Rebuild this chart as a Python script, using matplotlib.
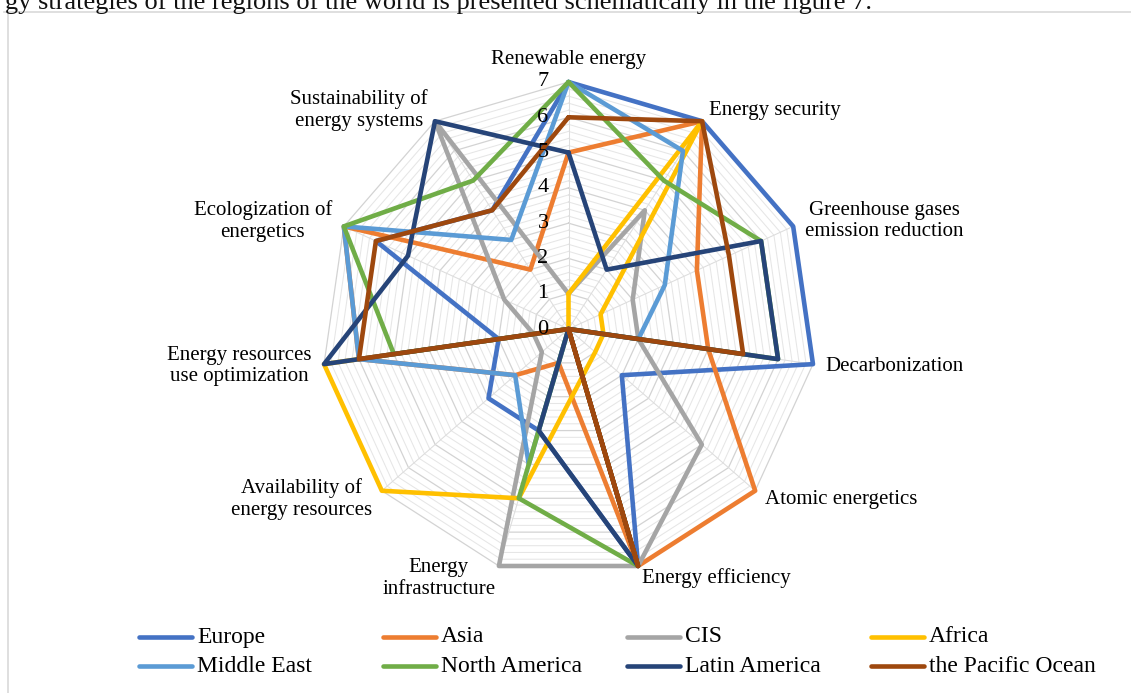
import numpy as np
import matplotlib
matplotlib.use("Agg")
from matplotlib import pyplot as plt
from matplotlib.lines import Line2D

categories = [
    "Renewable energy",
    "Energy security",
    "Greenhouse gases\nemission reduction",
    "Decarbonization",
    "Atomic energetics",
    "Energy efficiency",
    "Energy\ninfrastructure",
    "Availability of\nenergy resources",
    "Energy resources\nuse optimization",
    "Ecologization of\nenergetics",
    "Sustainability of\nenergy systems",
]

regions = ["Europe", "Asia", "CIS", "Africa",
           "Middle East", "North America", "Latin America", "the Pacific Ocean"]

europe = [7, 7, 7, 7, 2, 7, 3, 3, 2, 6, 4]
asia = [5, 7, 4, 4, 7, 7, 1, 2, 6, 7, 2]
cis = [1, 4, 2, 2, 5, 7, 7, 1, 1, 2, 7]
africa = [1, 7, 1, 1, 1, np.nan, 5, 7, 7, 0, 0]  # no score for energy efficiency
middle_east = [7, 6, 3, 2, 0, 0, 4, 2, 6, 7, 3]
north_america = [7, 5, 6, 6, 0, 7, 5, 0, 5, 7, 5]
latin_america = [5, 2, 6, 6, 0, 7, 3, 0, 7, 5, 7]
pacific = [6, 7, 5, 5, 0, 7, 0, 0, 6, 6, 4]

colors = ["#4472C4", "#ED7D31", "#A5A5A5", "#FFC000",
          "#5B9BD5", "#70AD47", "#264478", "#9E480E"]

ticks = [0, 1, 2, 3, 4, 5, 6, 7]
R_MAX = 7

plt.rcParams["font.family"] = ["Liberation Serif", "DejaVu Serif"]

W, H = 1131, 693
fig = plt.figure(figsize=(W / 100, H / 100), dpi=100)
fig.patch.set_facecolor("white")

# page text above the chart, cut by the top edge
fig.text(5 / W, 1 - 9 / H,
         "gy strategies of the regions of the world is presented schematically in the figure 7.",
         fontsize=19, ha="left", va="baseline", color="#111111")

# chart frame
fig.add_artist(Line2D([4 / W, 1], [1 - 12 / H] * 2, color="#D9D9D9", lw=1.2))
fig.add_artist(Line2D([8 / W] * 2, [0, 1 - 12 / H], color="#D9D9D9", lw=1.2))

cx, cy, rad = 568.5, 329, 247
ax = fig.add_axes([(cx - rad) / W, (H - cy - rad) / H, 2 * rad / W, 2 * rad / H],
                  projection="polar")
ax.set_theta_zero_location("N")
ax.set_theta_direction(-1)
ax.set_ylim(0, R_MAX)
ax.grid(False)
ax.spines["polar"].set_visible(False)
ax.set_xticks([])
ax.set_yticks([])
ax.patch.set_alpha(0)

n = len(categories)
theta = np.arange(n) * 2 * np.pi / n
ring_t = np.append(theta, theta[0])

# polygon gridlines every 0.2, a bit darker on whole numbers
for k in range(1, 36):
    r = k * 0.2
    major = k % 5 == 0
    ax.plot(ring_t, [r] * (n + 1), color="#D3D3D3" if major else "#E6E6E6",
            lw=0.9 if major else 0.75, zorder=1, clip_on=False)
for t in theta:
    ax.plot([t, t], [0, R_MAX], color="#DDDDDD", lw=0.75, zorder=1)

series = [europe, asia, cis, africa, middle_east, north_america, latin_america, pacific]
for vals, col, name in zip(series, colors, regions):
    v = np.array(vals, dtype=float)
    ok = ~np.isnan(v)
    t = theta[ok]
    v = v[ok]
    ax.plot(np.append(t, t[0]), np.append(v, v[0]), color=col, lw=3.3,
            solid_joinstyle="round", solid_capstyle="round", zorder=3, clip_on=False)

# radial value labels along the first axis, drawn over the series
for r in ticks:
    ax.annotate(str(r), xy=(0, r), xytext=(-20, 0), textcoords="offset pixels",
                ha="right", va="center", fontsize=16, zorder=5)

# category labels pushed out from the outer ring
for t, lab in zip(theta, categories):
    s, c = np.sin(t), np.cos(t)
    ha = "left" if s > 0.1 else ("right" if s < -0.1 else "center")
    va = "bottom" if c > 0.95 else "center"
    ax.annotate(lab, xy=(t, R_MAX), xytext=(13 * s, 13 * c), textcoords="offset pixels",
                ha=ha, va=va, fontsize=15, multialignment="center", zorder=5)

# legend, four columns by two rows
col_x = [139, 383, 627, 871]
row_y = [637, 666]
for i, (name, col) in enumerate(zip(regions, colors)):
    x0 = col_x[i % 4]
    y0 = row_y[i // 4]
    fig.add_artist(Line2D([x0 / W, (x0 + 53) / W], [1 - y0 / H] * 2, color=col,
                          lw=3.3, solid_capstyle="round"))
    fig.text((x0 + 58) / W, 1 - y0 / H, name, fontsize=17, ha="left", va="center")

fig.savefig("out.png", dpi=100)
